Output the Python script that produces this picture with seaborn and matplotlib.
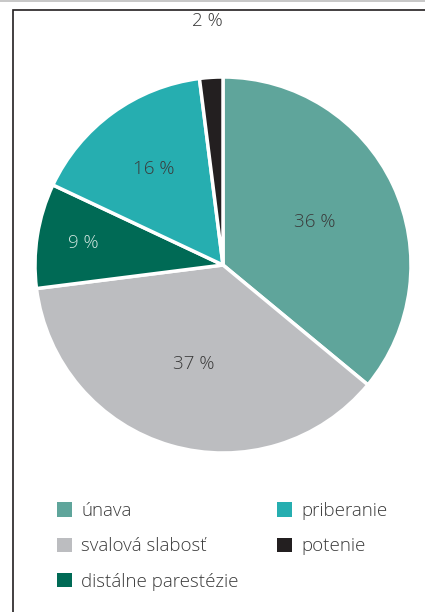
import numpy as np
import matplotlib.pyplot as plt
import seaborn as sns
from matplotlib.patches import Rectangle, Patch

sns.set_theme(style="white")
plt.rcParams['font.family'] = ['Open Sans', 'DejaVu Sans']

labels = ['únava', 'svalová slabosť', 'distálne parestézie', 'priberanie', 'potenie']
values = [36, 37, 9, 16, 2]
colors = ['#5fa59b', '#bcbdc0', '#006a55', '#26aeb0', '#231f20']
label_dist = [0.54, 0.55, 0.75, 0.63, 1.30]
label_colors = ['#3a3a3a', '#3a3a3a', '#cfe5de', '#3a3a3a', '#3a3a3a']
txt_color = '#3a3a3a'

fig = plt.figure(figsize=(4.25, 6.12), dpi=100)
cx, cy, r = 223, 612 - 265, 188
ax = fig.add_axes([(cx - r) / 425, (cy - r) / 612, 2 * r / 425, 2 * r / 612])

wedges, texts = ax.pie(values, colors=colors, startangle=90, counterclock=False,
                       wedgeprops=dict(edgecolor='white', linewidth=2.5))
for w, v, d, tc in zip(wedges, values, label_dist, label_colors):
    ang = np.deg2rad((w.theta1 + w.theta2) / 2)
    ax.text(d * np.cos(ang), d * np.sin(ang), f'{v} %', ha='center', va='center',
            fontsize=13.5, fontweight='light', color=tc, clip_on=False)
ax.set_xlim(-1, 1)
ax.set_ylim(-1, 1)
ax.set_aspect('equal')
ax.axis('off')

handles = [Patch(facecolor=c, edgecolor='none') for c in colors]
leg = fig.legend(handles, labels, ncol=2, loc='upper left',
                 bbox_to_anchor=(40 / 425, 1 - 485 / 612), frameon=False,
                 prop=dict(size=13.5, weight='light'),
                 handlelength=0.8, handleheight=0.8,
                 handletextpad=0.5, labelspacing=0.93, columnspacing=2.05,
                 labelcolor=txt_color)

# frame around the figure (only top and left edges visible)
fig.patches.append(Rectangle((13 / 425, -0.1), 1.5, 0.1 + 1 - 10 / 612,
                             transform=fig.transFigure, fill=False,
                             edgecolor='#231f20', linewidth=1.2))
fig.patches.append(Rectangle((0, 1 - 1.5 / 612), 1, 1.5 / 612,
                             transform=fig.transFigure, facecolor='#c8c8c8',
                             edgecolor='none'))

fig.savefig('out.png', dpi=100)
